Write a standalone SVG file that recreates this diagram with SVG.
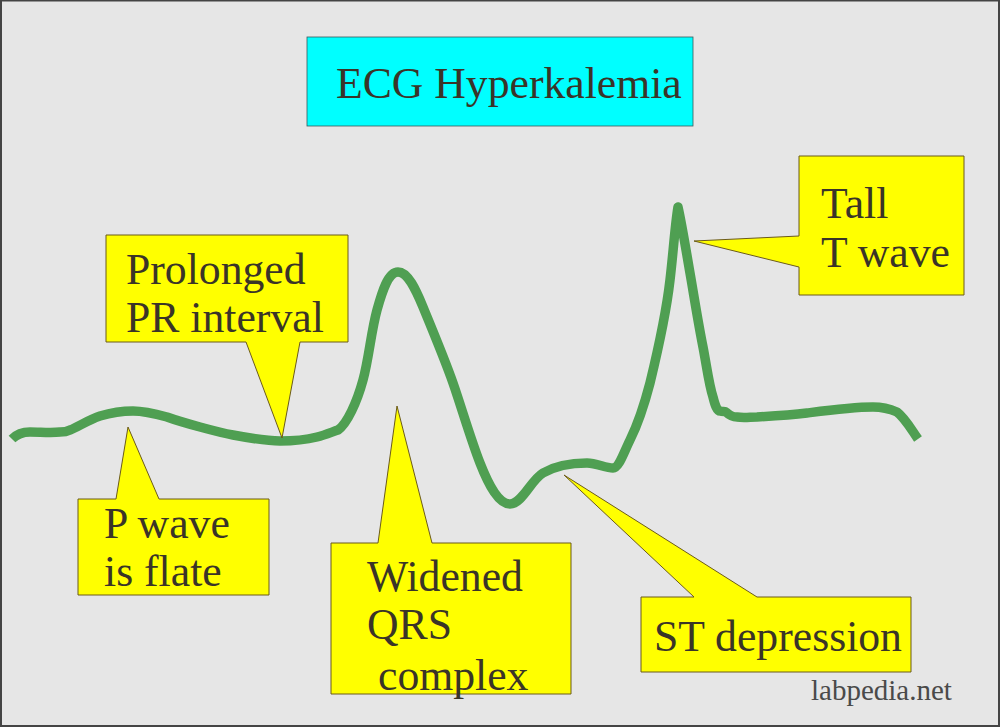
<svg xmlns="http://www.w3.org/2000/svg" width="1000" height="727" viewBox="0 0 1000 727">
<style>
.c{fill:#ffff00;stroke:#6b5a1a;stroke-width:1}
text{font-family:"Liberation Serif",serif;font-size:43.7px;fill:#3a3428}
</style>
<rect x="1" y="0.5" width="998" height="725.5" fill="#e6e6e6" stroke="#444" stroke-width="2"/>
<g id="title"><rect x="307" y="37" width="386" height="89" fill="#00ffff" stroke="#3a5a5a" stroke-width="0.8"/><text x="336" y="98">ECG Hyperkalemia</text></g>
<g id="connectors"><path d="M12 439C17 434 23 432 30 432C40 432 52 433 60 432C65 432 68 431 70 430C78 427 88 420 100 416C110 413 122 411 133 411C145 411 156 414 167 417C178 421 189 424 200 427C211 430 222 433 233 435C249 438 265 441 280 441C293 441 305 440 317 437C325 435 332 432 338 430C347 424 357 402 363 380C369 358 371 332 377 310C382 292 388 272 398 272C408 272 416 290 423 307C430 324 445 360 453 383C461 406 471 440 480 463C489 486 499 504 510 504C522 504 531 480 543 473C555 466 572 463 587 463C597 463 605 468 613 468C619 468 624 452 630 440C637 426 644 406 650 383C658 350 666 315 670 280C673 255 675 225 678 207C682 225 686 250 690 273C694 296 698 322 703 347C707 368 709 385 713 397C715 405 717 411 720 411C723 412 725 411 726 412C729 415 733 417 737 417C744 418 750 417 757 417C774 416 790 415 807 413C830 410 852 407 873 407C883 407 890 409 897 412C905 418 911 429 918 439" fill="none" stroke="#4f9f52" stroke-width="9.5" stroke-linejoin="round"/></g>
<g id="prolonged"><path class="c" d="M106 235H348V342H300L282 438L246 342H106Z"/><text x="126" y="284">Prolonged</text><text x="126" y="332">PR interval</text></g>
<g id="pwave"><path class="c" d="M78 499H116L128 427L159 499H269V595H78Z"/><text x="104" y="538">P wave</text><text x="104" y="586">is flate</text></g>
<g id="qrs"><path class="c" d="M331 543H378L397 406L432 543H571V694H331Z"/><text x="367" y="591">Widened</text><text x="367" y="639">QRS</text><text x="378" y="690">complex</text></g>
<g id="st"><path class="c" d="M641 597H694L564 475L757 597H911V672H641Z"/><text x="654" y="651">ST depression</text></g>
<g id="twave"><path class="c" d="M799 156H964V295H799V267L694 241L799 236Z"/><text x="821" y="218">Tall</text><text x="821" y="267">T wave</text></g>
<text x="811" y="700" style="font-size:29px;fill:#4a4a4a">labpedia.net</text>
</svg>
